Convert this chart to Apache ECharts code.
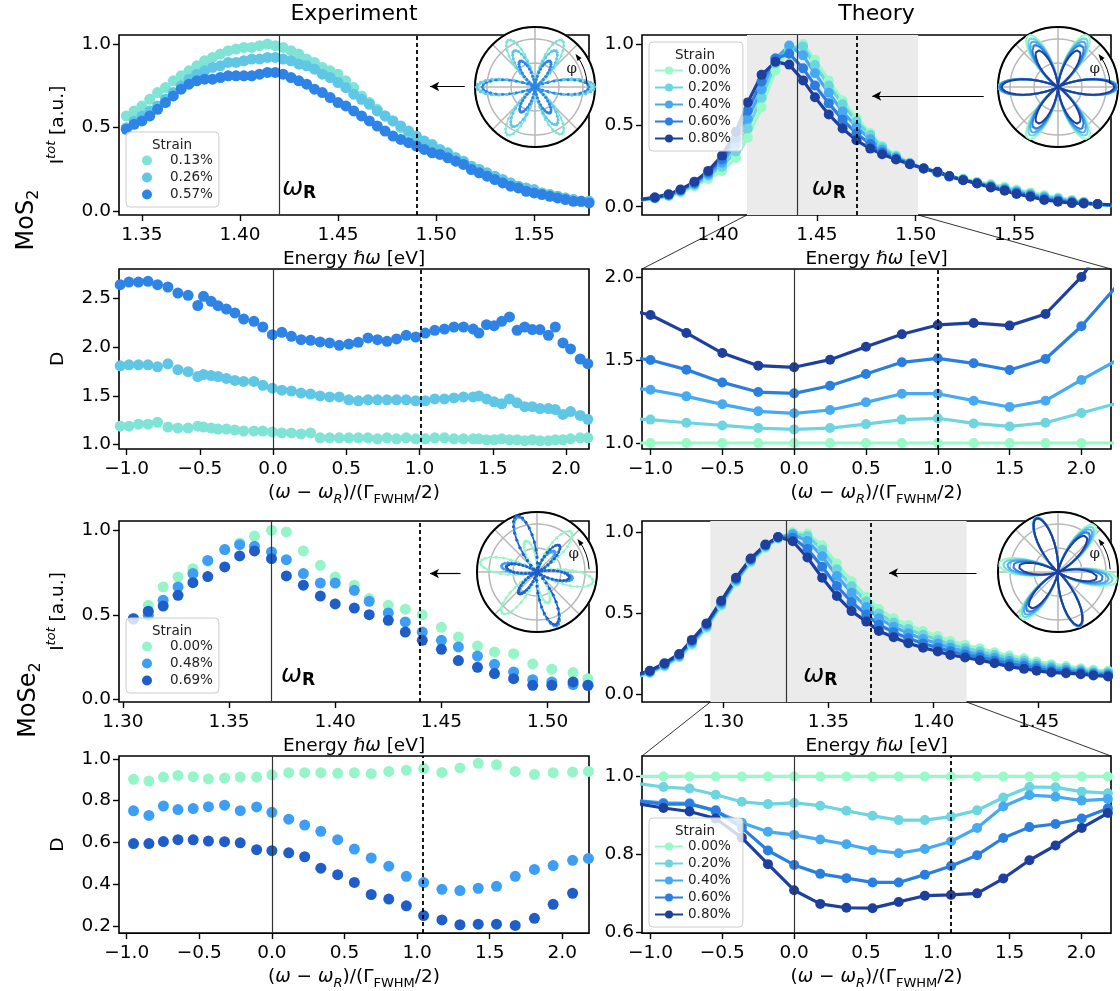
<!DOCTYPE html>
<html>
<head>
<meta charset="UTF-8" />
<title>Strain dependence of SHG in MoS2 / MoSe2</title>
<script src="https://cdn.jsdelivr.net/npm/echarts@6/dist/echarts.min.js"></script>
<style>
  html, body { margin: 0; padding: 0; background: #fff; }
  #main { width: 1120px; height: 991px; }
</style>
</head>
<body>
<div id="main"></div>
<script>
// ---------- MoS2, experiment: total intensity ----------
const E_MOS2_EXP = [1.338, 1.342, 1.346, 1.350, 1.354, 1.358, 1.362, 1.366, 1.370, 1.374,
  1.378, 1.382, 1.386, 1.390, 1.394, 1.398, 1.402, 1.406, 1.410, 1.414,
  1.418, 1.422, 1.426, 1.430, 1.434, 1.438, 1.442, 1.446, 1.450, 1.454,
  1.458, 1.462, 1.466, 1.470, 1.474, 1.478, 1.482, 1.486, 1.490, 1.494,
  1.498, 1.502, 1.506, 1.510, 1.514, 1.518, 1.522, 1.526, 1.530, 1.534,
  1.538, 1.542, 1.546, 1.550, 1.554, 1.558, 1.562, 1.566, 1.570, 1.574, 1.578];
const I_MOS2_EXP_013 = [.54, .57, .60, .63, .67, .71, .74, .78, .81, .84, .87, .90, .92, .94, .96, .97, .98, .98, .99, 1.00,
  .99, .98, .96, .94, .91, .89, .86, .84, .82, .78, .74, .69, .65, .61, .57, .54, .50, .47, .44, .41,
  .39, .36, .34, .32, .29, .27, .25, .22, .20, .18, .17, .15, .13, .12, .11, .10, .09, .08, .07, .06, .06];
const I_MOS2_EXP_026 = [.47, .50, .54, .57, .60, .63, .67, .71, .75, .79, .82, .84, .86, .87, .89, .89, .90, .91, .91, .92,
  .92, .91, .90, .88, .87, .85, .82, .80, .77, .74, .70, .67, .64, .60, .57, .54, .51, .48, .45, .42,
  .40, .37, .35, .32, .30, .27, .25, .23, .21, .19, .17, .15, .14, .13, .11, .10, .09, .08, .07, .06, .06];
const I_MOS2_EXP_057 = [.45, .49, .52, .54, .57, .61, .65, .69, .73, .76, .78, .79, .79, .80, .81, .81, .81, .81, .82, .83,
  .83, .82, .80, .78, .76, .73, .71, .68, .65, .63, .60, .57, .54, .51, .48, .45, .43, .41, .39, .37,
  .35, .34, .32, .30, .28, .25, .23, .21, .19, .17, .15, .14, .12, .11, .10, .09, .08, .07, .06, .06, .05];

// ---------- MoS2, experiment: D ----------
const X_MOS2_EXP_D = [-1.044, -0.984, -0.919, -0.854, -0.789, -0.718, -0.65, -0.58, -0.514, -0.475,
  -0.423, -0.376, -0.319, -0.261, -0.201, -0.131, -0.07, -0.005, 0.06, 0.125,
  0.191, 0.256, 0.321, 0.386, 0.452, 0.517, 0.582, 0.648, 0.713, 0.778,
  0.843, 0.909, 0.974, 1.039, 1.104, 1.17, 1.235, 1.3, 1.366, 1.405,
  1.457, 1.509, 1.561, 1.614, 1.666, 1.718, 1.77, 1.822, 1.88, 1.927,
  1.979, 2.031, 2.097, 2.149];
const D_MOS2_EXP_013 = [1.19, 1.19, 1.21, 1.21, 1.23, 1.18, 1.17, 1.17, 1.19, 1.18,
  1.17, 1.16, 1.16, 1.15, 1.14, 1.14, 1.14, 1.13, 1.12, 1.12,
  1.11, 1.12, 1.07, 1.07, 1.07, 1.07, 1.07, 1.07, 1.06, 1.07,
  1.06, 1.07, 1.06, 1.06, 1.07, 1.07, 1.06, 1.06, 1.06, 1.06,
  1.05, 1.05, 1.06, 1.05, 1.05, 1.04, 1.05, 1.04, 1.04, 1.05,
  1.05, 1.06, 1.07, 1.07];
const D_MOS2_EXP_026 = [1.81, 1.82, 1.82, 1.82, 1.80, 1.83, 1.77, 1.75, 1.70, 1.72,
  1.71, 1.70, 1.68, 1.66, 1.65, 1.65, 1.61, 1.58, 1.56, 1.55,
  1.53, 1.52, 1.50, 1.49, 1.49, 1.46, 1.45, 1.46, 1.46, 1.46,
  1.46, 1.46, 1.45, 1.45, 1.47, 1.47, 1.48, 1.49, 1.49, 1.50,
  1.47, 1.44, 1.42, 1.47, 1.43, 1.39, 1.39, 1.37, 1.37, 1.36,
  1.31, 1.34, 1.30, 1.26];
const D_MOS2_EXP_057 = [2.644, 2.671, 2.671, 2.678, 2.644, 2.62, 2.558, 2.534, 2.43, 2.524,
  2.473, 2.428, 2.394, 2.353, 2.291, 2.267, 2.209, 2.13, 2.154, 2.113,
  2.079, 2.072, 2.055, 2.045, 2.021, 2.034, 2.051, 2.096, 2.079, 2.062,
  2.086, 2.123, 2.106, 2.147, 2.175, 2.188, 2.209, 2.209, 2.188, 2.147,
  2.233, 2.222, 2.267, 2.312, 2.175, 2.209, 2.182, 2.182, 2.123, 2.209,
  2.045, 1.983, 1.88, 1.832];

// ---------- MoS2, theory: total intensity ----------
const E_MOS2_TH = [1.361, 1.368, 1.375, 1.381, 1.388, 1.395, 1.402, 1.409, 1.415, 1.422,
  1.429, 1.436, 1.443, 1.449, 1.456, 1.463, 1.470, 1.477, 1.483, 1.490,
  1.497, 1.504, 1.511, 1.517, 1.524, 1.531, 1.538, 1.545, 1.551, 1.558,
  1.565, 1.572, 1.579, 1.585, 1.592, 1.599];
const I_MOS2_TH_000 = [0.041, 0.05, 0.065, 0.088, 0.125, 0.17, 0.22, 0.30, 0.424, 0.612,
  0.837, 0.959, 1.0, 0.902, 0.776, 0.653, 0.547, 0.453, 0.373, 0.316,
  0.269, 0.235, 0.21, 0.188, 0.173, 0.153, 0.139, 0.122, 0.106, 0.088,
  0.071, 0.057, 0.041, 0.031, 0.016, 0.006];
const I_MOS2_TH_020 = [0.042, 0.052, 0.068, 0.094, 0.133, 0.19, 0.245, 0.34, 0.48, 0.67,
  0.88, 0.975, 0.985, 0.87, 0.745, 0.63, 0.525, 0.44, 0.365, 0.31,
  0.268, 0.235, 0.21, 0.186, 0.168, 0.149, 0.132, 0.115, 0.098, 0.08,
  0.063, 0.05, 0.036, 0.027, 0.015, 0.007];
const I_MOS2_TH_040 = [0.043, 0.054, 0.071, 0.098, 0.14, 0.2, 0.27, 0.38, 0.54, 0.72,
  0.91, 0.99, 0.93, 0.82, 0.70, 0.585, 0.49, 0.415, 0.35, 0.302,
  0.265, 0.235, 0.21, 0.185, 0.165, 0.146, 0.127, 0.109, 0.091, 0.073,
  0.056, 0.044, 0.032, 0.024, 0.015, 0.008];
const I_MOS2_TH_060 = [0.044, 0.056, 0.074, 0.102, 0.146, 0.21, 0.29, 0.42, 0.59, 0.77,
  0.91, 0.94, 0.85, 0.745, 0.635, 0.535, 0.45, 0.385, 0.335, 0.295,
  0.263, 0.235, 0.212, 0.187, 0.164, 0.144, 0.122, 0.103, 0.085, 0.067,
  0.048, 0.037, 0.027, 0.022, 0.015, 0.01];
const I_MOS2_TH_080 = [0.045, 0.057, 0.077, 0.106, 0.153, 0.22, 0.314, 0.46, 0.641, 0.81,
  0.89, 0.873, 0.776, 0.673, 0.567, 0.48, 0.408, 0.357, 0.322, 0.29,
  0.261, 0.235, 0.214, 0.188, 0.163, 0.143, 0.118, 0.098, 0.078, 0.061,
  0.041, 0.031, 0.022, 0.02, 0.016, 0.012];

// ---------- MoS2, theory: D ----------
const X_MOS2_TH_D = [-1.25, -1.0, -0.75, -0.5, -0.25, 0.0, 0.25, 0.5, 0.75, 1.0, 1.25, 1.5, 1.75, 2.0, 2.25];
const D_MOS2_TH_000 = [1, 1, 1, 1, 1, 1, 1, 1, 1, 1, 1, 1, 1, 1, 1];
const D_MOS2_TH_020 = [1.15, 1.141, 1.122, 1.106, 1.09, 1.082, 1.09, 1.114, 1.141, 1.149, 1.118, 1.1, 1.122, 1.181, 1.24];
const D_MOS2_TH_040 = [1.34, 1.321, 1.281, 1.233, 1.191, 1.179, 1.199, 1.245, 1.297, 1.297, 1.255, 1.217, 1.255, 1.38, 1.50];
const D_MOS2_TH_060 = [1.53, 1.50, 1.442, 1.365, 1.307, 1.299, 1.345, 1.416, 1.486, 1.51, 1.48, 1.44, 1.506, 1.703, 1.95];
const D_MOS2_TH_080 = [1.82, 1.771, 1.663, 1.542, 1.466, 1.456, 1.502, 1.58, 1.655, 1.711, 1.723, 1.707, 1.777, 2.0, 2.3];

// ---------- MoSe2, experiment: total intensity ----------
const E_MOSE2_EXP = [1.305, 1.312, 1.319, 1.326, 1.333, 1.340, 1.348, 1.355, 1.362, 1.370,
  1.377, 1.385, 1.393, 1.400, 1.409, 1.416, 1.425, 1.433, 1.441, 1.450,
  1.458, 1.467, 1.475, 1.484, 1.493, 1.502, 1.512, 1.519];
const I_MOSE2_EXP_000 = [0.48, 0.556, 0.665, 0.724, 0.773, 0.817, 0.886, 0.925, 0.966, 1.0,
  0.99, 0.878, 0.793, 0.724, 0.675, 0.596, 0.556, 0.533, 0.501, 0.426,
  0.369, 0.316, 0.28, 0.27, 0.209, 0.178, 0.158, 0.122];
const I_MOSE2_EXP_048 = [0.473, 0.497, 0.586, 0.665, 0.744, 0.822, 0.886, 0.915, 0.905, 0.872,
  0.826, 0.744, 0.688, 0.688, 0.645, 0.58, 0.511, 0.458, 0.398, 0.349,
  0.31, 0.256, 0.207, 0.162, 0.116, 0.103, 0.087, 0.083];
const I_MOSE2_EXP_069 = [0.477, 0.521, 0.552, 0.615, 0.69, 0.726, 0.783, 0.848, 0.878, 0.832,
  0.73, 0.675, 0.611, 0.564, 0.54, 0.501, 0.467, 0.398, 0.349, 0.296,
  0.229, 0.189, 0.152, 0.122, 0.083, 0.083, 0.103, 0.083];

// ---------- MoSe2, experiment: D ----------
const X_MOSE2_EXP_D = [-0.953, -0.847, -0.747, -0.647, -0.542, -0.437, -0.326, -0.218, -0.105, 0.0,
  0.116, 0.226, 0.337, 0.453, 0.568, 0.684, 0.805, 0.926, 1.045, 1.171,
  1.295, 1.421, 1.547, 1.676, 1.808, 1.937, 2.071, 2.18];
const D_MOSE2_EXP_000 = [0.902, 0.894, 0.913, 0.921, 0.915, 0.904, 0.908, 0.913, 0.913, 0.924,
  0.934, 0.934, 0.934, 0.931, 0.934, 0.929, 0.94, 0.946, 0.954, 0.935,
  0.957, 0.979, 0.972, 0.94, 0.926, 0.934, 0.937, 0.94];
const D_MOSE2_EXP_048 = [0.751, 0.729, 0.774, 0.757, 0.762, 0.771, 0.778, 0.752, 0.77, 0.744,
  0.711, 0.683, 0.653, 0.613, 0.568, 0.525, 0.486, 0.437, 0.407, 0.375,
  0.369, 0.38, 0.389, 0.437, 0.47, 0.489, 0.514, 0.523];
const D_MOSE2_EXP_069 = [0.594, 0.594, 0.604, 0.613, 0.612, 0.606, 0.603, 0.598, 0.565, 0.56,
  0.55, 0.531, 0.476, 0.445, 0.408, 0.35, 0.328, 0.296, 0.249, 0.228,
  0.205, 0.208, 0.208, 0.202, 0.236, 0.303, 0.356, null];

// ---------- MoSe2, theory: total intensity ----------
const E_MOSE2_TH = [1.258, 1.265, 1.272, 1.279, 1.285, 1.292, 1.299, 1.306, 1.313, 1.320, 1.326,
  1.333, 1.340, 1.347, 1.354, 1.361, 1.368, 1.374, 1.381, 1.388, 1.395,
  1.402, 1.408, 1.415, 1.422, 1.429, 1.436, 1.443, 1.449, 1.456, 1.463,
  1.470, 1.476, 1.483];
const I_MOSE2_TH_000 = [0.10, 0.127, 0.168, 0.224, 0.302, 0.405, 0.542, 0.688, 0.811, 0.901, 0.959,
  1.0, 0.99, 0.918, 0.805, 0.696, 0.6, 0.524, 0.466, 0.425, 0.388,
  0.357, 0.326, 0.302, 0.281, 0.257, 0.236, 0.22, 0.199, 0.183, 0.172,
  0.158, 0.148, 0.142];
const I_MOSE2_TH_020 = [0.104, 0.131, 0.174, 0.23, 0.31, 0.413, 0.55, 0.695, 0.818, 0.907, 0.962,
  0.99, 0.975, 0.89, 0.77, 0.665, 0.57, 0.496, 0.44, 0.40, 0.364,
  0.334, 0.305, 0.282, 0.262, 0.24, 0.22, 0.204, 0.185, 0.17, 0.16,
  0.148, 0.138, 0.132];
const I_MOSE2_TH_040 = [0.108, 0.135, 0.178, 0.235, 0.318, 0.42, 0.558, 0.703, 0.825, 0.913, 0.965,
  0.985, 0.945, 0.85, 0.728, 0.625, 0.536, 0.467, 0.414, 0.374, 0.338,
  0.31, 0.284, 0.262, 0.243, 0.223, 0.203, 0.188, 0.171, 0.157, 0.149,
  0.139, 0.129, 0.123];
const I_MOSE2_TH_060 = [0.112, 0.139, 0.184, 0.241, 0.326, 0.428, 0.567, 0.71, 0.831, 0.918, 0.967,
  0.965, 0.895, 0.785, 0.666, 0.567, 0.49, 0.427, 0.38, 0.343, 0.311,
  0.285, 0.262, 0.243, 0.225, 0.206, 0.186, 0.171, 0.157, 0.144, 0.138,
  0.13, 0.121, 0.115];
const I_MOSE2_TH_080 = [0.115, 0.142, 0.189, 0.246, 0.333, 0.435, 0.575, 0.717, 0.836, 0.922, 0.969,
  0.943, 0.842, 0.717, 0.604, 0.511, 0.446, 0.388, 0.349, 0.312, 0.285,
  0.261, 0.24, 0.224, 0.207, 0.189, 0.168, 0.154, 0.142, 0.131, 0.127,
  0.121, 0.113, 0.107];

// ---------- MoSe2, theory: D ----------
const X_MOSE2_TH_D = [-1.092, -0.91, -0.728, -0.546, -0.364, -0.182, 0.0, 0.182, 0.364, 0.546,
  0.728, 0.91, 1.092, 1.274, 1.456, 1.638, 1.82, 2.002, 2.184];
const D_MOSE2_TH_000 = [1, 1, 1, 1, 1, 1, 1, 1, 1, 1, 1, 1, 1, 1, 1, 1, 1, 1, 1];
const D_MOSE2_TH_020 = [0.982, 0.973, 0.969, 0.953, 0.935, 0.929, 0.932, 0.925, 0.912, 0.899,
  0.888, 0.888, 0.897, 0.913, 0.946, 0.973, 0.972, 0.961, 0.957];
const D_MOSE2_TH_040 = [0.938, 0.932, 0.931, 0.91, 0.881, 0.858, 0.85, 0.838, 0.826, 0.811,
  0.803, 0.814, 0.833, 0.868, 0.923, 0.952, 0.948, 0.938, 0.942];
const D_MOSE2_TH_060 = [0.937, 0.929, 0.929, 0.913, 0.868, 0.81, 0.773, 0.75, 0.739, 0.728,
  0.728, 0.748, 0.77, 0.798, 0.842, 0.87, 0.878, 0.892, 0.918];
const D_MOSE2_TH_080 = [0.93, 0.919, 0.91, 0.892, 0.843, 0.775, 0.708, 0.673, 0.663, 0.662,
  0.678, 0.694, 0.696, 0.70, 0.738, 0.785, 0.823, 0.868, 0.906];

// ---------- polar insets: lobe shape and per-lobe peak values ----------
const LOBE_PROFILE = [1.0, 0.98, 0.93, 0.85, 0.75, 0.63, 0.5, 0.37, 0.25, 0.15, 0.07, 0.02, 0.0]; // 0..30 deg off axis
const LOBE_STEP = 2.5;
const DIRS_MOS2 = [0, 60, 120, 180, 240, 300];
const DIRS_MOSE2_EXP = [-10, 50, 110, 170, 230, 290];
const DIRS_MOSE2_TH = [-8, 52, 112, 172, 232, 292];
const LOBES_MOS2_EXP = [
  [0.95, 0.90, 0.90, 0.95, 0.92, 0.90],
  [1.00, 0.70, 0.70, 0.98, 0.76, 0.72],
  [0.90, 0.50, 0.50, 0.88, 0.48, 0.50]];
const LOBES_MOS2_TH = [
  [1.00, 1.00, 1.00, 1.00, 1.00, 1.00],
  [1.00, 0.93, 0.93, 1.00, 0.93, 0.93],
  [0.99, 0.87, 0.87, 0.99, 0.87, 0.87],
  [0.97, 0.80, 0.80, 0.97, 0.80, 0.80],
  [0.94, 0.70, 0.70, 0.94, 0.70, 0.70]];
const LOBES_MOSE2_EXP = [
  [0.95, 0.88, 0.55, 0.96, 0.90, 0.55],
  [0.60, 0.45, 0.97, 0.60, 0.45, 0.96],
  [0.55, 0.58, 1.00, 0.52, 0.47, 0.93]];
const LOBES_MOSE2_TH = [
  [1.00, 1.00, 0.98, 1.00, 1.00, 0.98],
  [0.92, 0.94, 0.98, 0.92, 0.94, 0.98],
  [0.85, 0.89, 0.98, 0.85, 0.89, 0.98],
  [0.76, 0.83, 0.97, 0.76, 0.83, 0.97],
  [0.66, 0.76, 0.96, 0.66, 0.76, 0.96]];

// ---------- labels, ticks, colours ----------
const STRAIN_MOS2_EXP = ['0.13%', '0.26%', '0.57%'];
const STRAIN_MOSE2_EXP = ['0.00%', '0.48%', '0.69%'];
const STRAIN_TH = ['0.00%', '0.20%', '0.40%', '0.60%', '0.80%'];
const COL_MOS2_EXP = ['#7fe3d6', '#5fc6e6', '#2e84e6'];
const COL_MOSE2_EXP = ['#96f5c8', '#3d9ef5', '#1f5dc9'];
const COL_TH = ['#97fac7', '#6cd5e0', '#46aaf2', '#2a7ee0', '#1d3f9e'];

const X_TICKS_MOS2_EXP = [1.35, 1.40, 1.45, 1.50, 1.55];
const X_TICKS_MOS2_TH = [1.40, 1.45, 1.50, 1.55];
const X_TICKS_MOSE2_EXP = [1.30, 1.35, 1.40, 1.45, 1.50];
const X_TICKS_MOSE2_TH = [1.30, 1.35, 1.40, 1.45];
const X_TICKS_D = [-1.0, -0.5, 0.0, 0.5, 1.0, 1.5, 2.0];
const Y_TICKS_I = [0.0, 0.5, 1.0];
const Y_TICKS_D_MOS2_EXP = [1.0, 1.5, 2.0, 2.5];
const Y_TICKS_D_MOS2_TH = [1.0, 1.5, 2.0];
const Y_TICKS_D_MOSE2_EXP = [0.2, 0.4, 0.6, 0.8, 1.0];
const Y_TICKS_D_MOSE2_TH = [0.6, 0.8, 1.0];

const FONT = '"DejaVu Sans", sans-serif';
const TICK_FS = 18.5;

// panel layout: resonance, dashed marker, grey band, arrow from the inset
const PANELS = [
  { box: [119, 35, 470, 180], x: [1.3383, 1.578], y: [-0.022, 1.054], xt: X_TICKS_MOS2_EXP, yt: Y_TICKS_I, xd: 2, xn: 'E', yn: 'I',
    wR: 1.4164, dash: 1.4918, arrow: [1.5146, 1.497, 0.746] },
  { box: [642, 35, 469, 180], x: [1.3615, 1.5988], y: [-0.051, 1.055], xt: X_TICKS_MOS2_TH, yt: Y_TICKS_I, xd: 2, xn: 'E',
    wR: 1.4423, dash: 1.4697, band: [1.4146, 1.5012], arrow: [1.5344, 1.478, 0.68] },
  { box: [119, 269, 470, 180], x: [-1.052, 2.157], y: [0.955, 2.805], xt: X_TICKS_D, yt: Y_TICKS_D_MOS2_EXP, xd: 1, xn: 'D', yn: 'D',
    wR: 0, dash: 1.01 },
  { box: [642, 269, 469, 180], x: [-1.059, 2.206], y: [0.964, 2.048], xt: X_TICKS_D, yt: Y_TICKS_D_MOS2_TH, xd: 1, xn: 'D',
    wR: 0, dash: 1.0 },
  { box: [119, 521, 470, 181], x: [1.2982, 1.5195], y: [-0.016, 1.055], xt: X_TICKS_MOSE2_EXP, yt: Y_TICKS_I, xd: 2, xn: 'E', yn: 'I',
    wR: 1.3698, dash: 1.4412, arrow: [1.459, 1.4446, 0.744] },
  { box: [642, 521, 469, 181], x: [1.2613, 1.4844], y: [-0.051, 1.068], xt: X_TICKS_MOSE2_TH, yt: Y_TICKS_I, xd: 2, xn: 'E',
    wR: 1.3333, dash: 1.3741, band: [1.2938, 1.4157], arrow: [1.4204, 1.3788, 0.747] },
  { box: [119, 756, 470, 181], x: [-1.053, 2.184], y: [0.165, 1.014], xt: X_TICKS_D, yt: Y_TICKS_D_MOSE2_EXP, xd: 1, xn: 'D', yn: 'D',
    wR: 0, dash: 1.045 },
  { box: [642, 756, 469, 181], x: [-1.059, 2.206], y: [0.598, 1.0525], xt: X_TICKS_D, yt: Y_TICKS_D_MOSE2_TH, xd: 1, xn: 'D',
    wR: 0, dash: 1.093 }
];

const INSETS = [
  { cx: 535, cy: 87, r: 60, dirs: DIRS_MOS2, lobes: LOBES_MOS2_EXP, colors: COL_MOS2_EXP, exp: true },
  { cx: 1058, cy: 87, r: 60, dirs: DIRS_MOS2, lobes: LOBES_MOS2_TH, colors: COL_TH, exp: false },
  { cx: 537, cy: 572, r: 60, dirs: DIRS_MOSE2_EXP, lobes: LOBES_MOSE2_EXP, colors: COL_MOSE2_EXP, exp: true },
  { cx: 1058, cy: 572, r: 60, dirs: DIRS_MOSE2_TH, lobes: LOBES_MOSE2_TH, colors: COL_TH, exp: false }
];

const LEGENDS = [
  { grid: 0, left: 126, top: 132, kind: 'scatter' },
  { grid: 1, left: 649, top: 42, kind: 'line' },
  { grid: 4, left: 126, top: 618, kind: 'scatter' },
  { grid: 7, left: 649, top: 818, kind: 'line' }
];

// ---------- helpers ----------
function fmt(v, d) {
  const s = Math.abs(v).toFixed(d);
  return v < -1e-9 ? '\u2212' + s : s;
}
function pairs(xs, ys) {
  const out = [];
  xs.forEach((x, k) => { if (ys[k] != null) out.push([x, ys[k]]); });
  return out;
}

const RICH = {
  i: { fontStyle: 'italic', fontSize: 18.5, fontFamily: FONT, lineHeight: 26 },
  isub: { fontStyle: 'italic', fontSize: 13, fontFamily: FONT, lineHeight: 13, verticalAlign: 'bottom' },
  sub: { fontSize: 13, fontFamily: FONT, lineHeight: 13, verticalAlign: 'bottom' },
  sup: { fontStyle: 'italic', fontSize: 13, fontFamily: FONT, lineHeight: 13, verticalAlign: 'top' }
};
const NAME_STYLE = { fontSize: 18.5, fontFamily: FONT, color: '#000', lineHeight: 26, rich: RICH };
const X_NAMES = {
  E: 'Energy {i|\u210F\u03C9} [eV]',
  D: '({i|\u03C9} \u2212 {i|\u03C9}{isub|R})/(\u0393{sub|FWHM}/2)'
};
const Y_NAMES = { I: 'I{sup|tot} [a.u.]', D: 'D' };

const grid = [], xAxis = [], yAxis = [], series = [];
PANELS.forEach((p, i) => {
  grid.push({ left: p.box[0], top: p.box[1], width: p.box[2], height: p.box[3],
    show: true, borderColor: '#000', borderWidth: 1.6, backgroundColor: 'transparent' });
  xAxis.push({
    gridIndex: i, type: 'value', min: p.x[0], max: p.x[1],
    name: X_NAMES[p.xn], nameLocation: 'middle', nameGap: 29, nameTextStyle: NAME_STYLE,
    axisLine: { show: false, onZero: false },
    axisTick: { show: true, inside: false, length: 6, lineStyle: { color: '#000', width: 1.4 }, customValues: p.xt },
    axisLabel: { customValues: p.xt, formatter: v => fmt(v, p.xd), fontSize: TICK_FS, fontFamily: FONT, color: '#000', margin: 11 },
    splitLine: { show: false }
  });
  yAxis.push({
    gridIndex: i, type: 'value', min: p.y[0], max: p.y[1],
    name: p.yn ? Y_NAMES[p.yn] : '', nameLocation: 'middle', nameGap: 48, nameTextStyle: NAME_STYLE,
    axisLine: { show: false, onZero: false },
    axisTick: { show: true, inside: false, length: 6, lineStyle: { color: '#000', width: 1.4 }, customValues: p.yt },
    axisLabel: { customValues: p.yt, formatter: v => fmt(v, 1), fontSize: TICK_FS, fontFamily: FONT, color: '#000', margin: 8 },
    splitLine: { show: false }
  });
  // guides: resonance line, dashed marker, grey band, arrow
  const ml = [
    { xAxis: p.wR, lineStyle: { type: 'solid', width: 1.2, color: '#333' } },
    { xAxis: p.dash, lineStyle: { type: [4, 3], width: 1.8, color: '#000' } }
  ];
  if (p.arrow) {
    ml.push([
      { coord: [p.arrow[0], p.arrow[2]], symbol: 'none', lineStyle: { type: 'solid', width: 1.2, color: '#000' } },
      { coord: [p.arrow[1], p.arrow[2]], symbol: 'arrow', symbolSize: [7, 9] }
    ]);
  }
  series.push({
    type: 'line', xAxisIndex: i, yAxisIndex: i, data: [], z: 1, silent: true,
    markLine: { silent: true, symbol: ['none', 'none'], label: { show: false }, animation: false, data: ml },
    markArea: p.band ? { silent: true, itemStyle: { color: '#ebebeb' }, data: [[{ xAxis: p.band[0] }, { xAxis: p.band[1] }]] } : undefined
  });
});

function scatter(name, gi, xs, ys, color) {
  series.push({ name, type: 'scatter', xAxisIndex: gi, yAxisIndex: gi, data: pairs(xs, ys),
    symbol: 'circle', symbolSize: 11, itemStyle: { color, opacity: 1 }, z: 3, silent: true });
}
function line(name, gi, xs, ys, color) {
  series.push({ name, type: 'line', xAxisIndex: gi, yAxisIndex: gi, data: pairs(xs, ys),
    symbol: 'circle', symbolSize: 10, showSymbol: true, lineStyle: { width: 3.2, color },
    itemStyle: { color }, z: 3, silent: true });
}

[I_MOS2_EXP_013, I_MOS2_EXP_026, I_MOS2_EXP_057].forEach((ys, k) =>
  scatter('a ' + STRAIN_MOS2_EXP[k], 0, E_MOS2_EXP, ys, COL_MOS2_EXP[k]));
[I_MOS2_TH_000, I_MOS2_TH_020, I_MOS2_TH_040, I_MOS2_TH_060, I_MOS2_TH_080].forEach((ys, k) =>
  line('b ' + STRAIN_TH[k], 1, E_MOS2_TH, ys, COL_TH[k]));
[D_MOS2_EXP_013, D_MOS2_EXP_026, D_MOS2_EXP_057].forEach((ys, k) =>
  scatter('c ' + STRAIN_MOS2_EXP[k], 2, X_MOS2_EXP_D, ys, COL_MOS2_EXP[k]));
[D_MOS2_TH_000, D_MOS2_TH_020, D_MOS2_TH_040, D_MOS2_TH_060, D_MOS2_TH_080].forEach((ys, k) =>
  line('d ' + STRAIN_TH[k], 3, X_MOS2_TH_D, ys, COL_TH[k]));
[I_MOSE2_EXP_000, I_MOSE2_EXP_048, I_MOSE2_EXP_069].forEach((ys, k) =>
  scatter('e ' + STRAIN_MOSE2_EXP[k], 4, E_MOSE2_EXP, ys, COL_MOSE2_EXP[k]));
[I_MOSE2_TH_000, I_MOSE2_TH_020, I_MOSE2_TH_040, I_MOSE2_TH_060, I_MOSE2_TH_080].forEach((ys, k) =>
  line('f ' + STRAIN_TH[k], 5, E_MOSE2_TH, ys, COL_TH[k]));
[D_MOSE2_EXP_000, D_MOSE2_EXP_048, D_MOSE2_EXP_069].forEach((ys, k) =>
  scatter('g ' + STRAIN_MOSE2_EXP[k], 6, X_MOSE2_EXP_D, ys, COL_MOSE2_EXP[k]));
[D_MOSE2_TH_000, D_MOSE2_TH_020, D_MOSE2_TH_040, D_MOSE2_TH_060, D_MOSE2_TH_080].forEach((ys, k) =>
  line('h ' + STRAIN_TH[k], 7, X_MOSE2_TH_D, ys, COL_TH[k]));

// polar rose curves: each lobe is its peak value times the lobe profile
function rose(dirs, peaks) {
  const n = LOBE_PROFILE.length - 1;
  const pts = [];
  dirs.forEach((d, k) => {
    for (let j = -n; j <= n; j++) {
      pts.push([peaks[k] * LOBE_PROFILE[Math.abs(j)], ((d + j * LOBE_STEP) % 360 + 360) % 360]);
    }
  });
  pts.push(pts[0]);
  return pts;
}
const polar = [], angleAxis = [], radiusAxis = [];
INSETS.forEach((ins, i) => {
  polar.push({ center: [ins.cx, ins.cy], radius: ins.r });
  angleAxis.push({ polarIndex: i, type: 'value', min: 0, max: 360, interval: 45, startAngle: 0, clockwise: false, z: 10,
    axisLine: { lineStyle: { color: '#000', width: 2 } }, axisTick: { show: false }, axisLabel: { show: false },
    splitLine: { lineStyle: { color: '#b8b8b8', width: 1.5 } } });
  radiusAxis.push({ polarIndex: i, type: 'value', min: 0, max: 1, interval: 0.4, z: 10,
    axisLine: { show: false }, axisTick: { show: false }, axisLabel: { show: false },
    splitLine: { lineStyle: { color: '#b8b8b8', width: 1.5 } } });
  ins.lobes.forEach((peaks, k) => {
    series.push({ type: 'line', coordinateSystem: 'polar', polarIndex: i, data: rose(ins.dirs, peaks),
      showSymbol: ins.exp, symbol: 'circle', symbolSize: 3, z: 12, silent: true,
      lineStyle: { width: ins.exp ? 1.4 : 2, color: ins.colors[k] }, itemStyle: { color: ins.colors[k] } });
  });
});

const legend = LEGENDS.map(L => {
  const names = series.filter(s => s.xAxisIndex === L.grid && s.name).map(s => s.name);
  const sc = L.kind === 'scatter';
  return {
    data: names, orient: 'vertical', left: L.left, top: L.top, selectedMode: false,
    itemWidth: sc ? 36 : 28, itemHeight: 10, itemGap: 2,
    padding: [21, sc ? 6 : 12, 5, sc ? 16 : 5],
    backgroundColor: 'rgba(255,255,255,0.8)', borderColor: '#cccccc', borderWidth: 1, borderRadius: 4,
    textStyle: { fontSize: 13.5, fontFamily: FONT, color: '#222', lineHeight: 15 },
    formatter: n => n.split(' ').pop()
  };
});

const chart = echarts.init(document.getElementById('main'));
chart.setOption({
  animation: false,
  backgroundColor: '#fff',
  grid, xAxis, yAxis, polar, angleAxis, radiusAxis, legend, series
});

// ---------- annotations that depend on the axes ----------
const gfx = [];
const toPx = (g, pt) => chart.convertToPixel({ gridIndex: g }, pt);
function text(x, y, str, style, extra) {
  gfx.push(Object.assign({ type: 'text', x, y, z: 20, silent: true,
    style: Object.assign({ text: str, fontFamily: FONT, fill: '#000', align: 'center', verticalAlign: 'middle' }, style) }, extra || {}));
}

text((PANELS[0].box[0] * 2 + PANELS[0].box[2]) / 2, 14, 'Experiment', { fontSize: 22 });
text((PANELS[1].box[0] * 2 + PANELS[1].box[2]) / 2, 14, 'Theory', { fontSize: 22 });
const MAT_RICH = { m: { fontSize: 24, fontFamily: FONT, lineHeight: 30 },
  s: { fontSize: 16, fontFamily: FONT, lineHeight: 16, verticalAlign: 'bottom' } };
text(27, 220, '{m|MoS}{s|2}', { rich: MAT_RICH }, { rotation: Math.PI / 2 });
text(29, 700, '{m|MoSe}{s|2}', { rich: MAT_RICH }, { rotation: Math.PI / 2 });

LEGENDS.forEach(L => text(L.left + 46, L.top + 13, 'Strain', { fontSize: 13.5, fill: '#222' }));

// resonance labels
[0, 1, 4, 5].forEach(g => {
  const p = PANELS[g];
  const pt = toPx(g, [p.wR, p.y[0]]);
  gfx.push({ type: 'text', x: pt[0] + 10, y: pt[1] - 27, z: 20, silent: true,
    style: { text: '{w|\u03C9}{r|R}', align: 'left', verticalAlign: 'middle',
      rich: { w: { fontSize: 25, fontStyle: 'italic', fontFamily: FONT, lineHeight: 28, fill: '#000' },
              r: { fontSize: 17, fontWeight: 'bold', fontFamily: FONT, lineHeight: 16, verticalAlign: 'bottom', fill: '#000' } } } });
});

// zoom connectors from the grey band to the D panel below
[[1, 3], [5, 7]].forEach(([g, d]) => {
  const p = PANELS[g], q = PANELS[d];
  const a = toPx(g, [p.band[0], p.y[0]]), b = toPx(g, [p.band[1], p.y[0]]);
  const c = toPx(d, [q.x[0], q.y[1]]), e = toPx(d, [q.x[1], q.y[1]]);
  gfx.push({ type: 'line', z: 20, silent: true, shape: { x1: a[0], y1: a[1], x2: c[0], y2: c[1] }, style: { stroke: '#000', lineWidth: 0.8 } });
  gfx.push({ type: 'line', z: 20, silent: true, shape: { x1: b[0], y1: b[1], x2: e[0], y2: e[1] }, style: { stroke: '#000', lineWidth: 0.8 } });
});

// inset backgrounds and the phi arrows
INSETS.forEach(ins => {
  gfx.push({ type: 'circle', z: 5, silent: true, shape: { cx: ins.cx, cy: ins.cy, r: ins.r + 1 }, style: { fill: '#fff' } });
  const rr = 0.87 * ins.r, a0 = 3 * Math.PI / 180, a1 = 36 * Math.PI / 180;
  gfx.push({ type: 'arc', z: 20, silent: true, shape: { cx: ins.cx, cy: ins.cy, r: rr, startAngle: -a1, endAngle: -a0, clockwise: true },
    style: { stroke: '#000', lineWidth: 1, fill: null } });
  const px = ins.cx + rr * Math.cos(a1), py = ins.cy - rr * Math.sin(a1);
  const dx = -Math.sin(a1), dy = -Math.cos(a1), nx = Math.cos(a1), ny = -Math.sin(a1);
  gfx.push({ type: 'polygon', z: 20, silent: true, shape: { points: [
    [px + dx * 3, py + dy * 3], [px - dx * 4 + nx * 2.5, py - dy * 4 + ny * 2.5], [px - dx * 4 - nx * 2.5, py - dy * 4 - ny * 2.5]] },
    style: { fill: '#000' } });
  const ta = 26 * Math.PI / 180;
  text(ins.cx + 0.68 * ins.r * Math.cos(ta), ins.cy - 0.68 * ins.r * Math.sin(ta), '\u03C6',
    { fontSize: 15, fontFamily: '"DejaVu Serif", serif', fill: '#222' });
});

chart.setOption({ graphic: gfx });
</script>
</body>
</html>
